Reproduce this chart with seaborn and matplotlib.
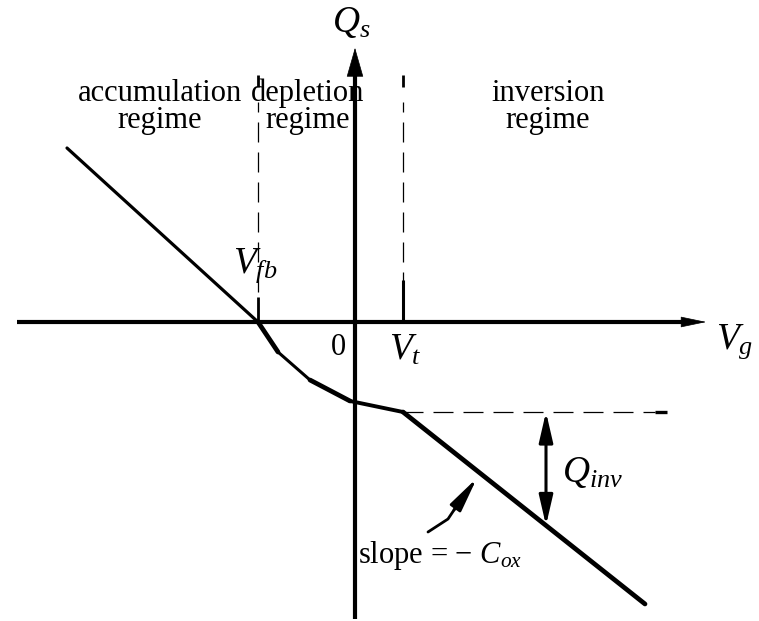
import numpy as np
import pandas as pd
import matplotlib
matplotlib.use("Agg")
import matplotlib.pyplot as plt
import seaborn as sns

sns.set_theme(style="white")
plt.rcParams["font.family"] = ["Liberation Serif", "DejaVu Serif"]
plt.rcParams["text.color"] = "black"
plt.rcParams["mathtext.fontset"] = "custom"
plt.rcParams["mathtext.rm"] = "Liberation Serif"
plt.rcParams["mathtext.it"] = "Liberation Serif:italic"

# Characteristic voltages (arbitrary units)
v_fb = -0.97
v_t = 0.48

# Surface charge vs gate voltage, piecewise segments
seg_vg = [-2.88, -0.97, -0.77, -0.45, -0.05, 0.48, 2.90]
seg_qs = [1.74, 0.00, -0.30, -0.58, -0.79, -0.90, -2.82]
seg_lw = [2.3, 3.4, 2.2, 3.4, 2.8, 3.4]

# Curved pointer to the inversion slope
ptr_x = [0.73, 0.93, 1.22]
ptr_y = [-2.10, -1.97, -1.56]

regime_names = ["accumulation\nregime", "depletion\nregime", "inversion\nregime"]
regime_x = [-1.95, -0.47, 1.93]

fig = plt.figure(figsize=(7.59, 6.21), dpi=100)
ax = fig.add_axes([0, 0, 1, 1])
ax.set_xlim(-3.55, 4.04)
ax.set_ylim(-2.99, 3.22)
ax.axis("off")

# Axes with arrowheads
ax.plot([-3.38, 3.3], [0, 0], color="black", lw=3.0, solid_capstyle="butt")
ax.annotate("", xy=(3.54, 0), xytext=(3.25, 0),
            arrowprops=dict(arrowstyle="-|>,head_length=1.2,head_width=0.25",
                            color="black", lw=0.5, mutation_scale=14))
ax.plot([0, 0], [-2.97, 2.5], color="black", lw=3.0, solid_capstyle="butt")
ax.annotate("", xy=(0, 2.77), xytext=(0, 2.45),
            arrowprops=dict(arrowstyle="-|>,head_length=1.4,head_width=0.4",
                            color="black", lw=0.5, mutation_scale=14))

# Regime boundaries
for xv in (v_fb, v_t):
    ax.plot([xv, xv], [0.0, 2.2], color="black", lw=0.9, ls=(0, (16, 8)))
    ax.plot([xv, xv], [2.35, 2.47], color="black", lw=2.0, solid_capstyle="butt")
ax.plot([v_fb, v_fb], [0.0, 0.25], color="black", lw=2.0, solid_capstyle="butt")
ax.plot([v_t, v_t], [0.0, 0.42], color="black", lw=2.2, solid_capstyle="butt")

# Threshold charge reference line
ax.plot([v_t, 3.0], [seg_qs[5], seg_qs[5]], color="black", lw=0.9, ls=(0, (16, 8)))
ax.plot([3.0, 3.12], [seg_qs[5], seg_qs[5]], color="black", lw=2.4, solid_capstyle="butt")

# Q_s(V_g) curve
for i in range(len(seg_vg) - 1):
    df = pd.DataFrame({"Vg": seg_vg[i:i + 2], "Qs": seg_qs[i:i + 2]})
    sns.lineplot(data=df, x="Vg", y="Qs", ax=ax, color="black",
                 lw=seg_lw[i], sort=False, estimator=None)

# Inversion charge double arrow
x_q = 1.91
slope = (seg_qs[6] - seg_qs[5]) / (seg_vg[6] - seg_vg[5])
y_curve = seg_qs[5] + slope * (x_q - seg_vg[5])
ax.annotate("", xy=(x_q, seg_qs[5]), xytext=(x_q, y_curve),
            arrowprops=dict(arrowstyle="<|-|>,head_length=1.3,head_width=0.3",
                            color="black", lw=2.2, mutation_scale=14,
                            shrinkA=0, shrinkB=0))

# Curved pointer
ax.plot(ptr_x[:2] + [ptr_x[1] + 0.1], ptr_y[:2] + [ptr_y[1] + 0.15],
        color="black", lw=2.0)
ax.annotate("", xy=(ptr_x[2], ptr_y[2]), xytext=(ptr_x[1] + 0.06, ptr_y[1] + 0.09),
            arrowprops=dict(arrowstyle="-|>,head_length=1.5,head_width=0.28",
                            color="black", lw=2.0, mutation_scale=14,
                            shrinkA=0, shrinkB=0))

# Labels
fs = 22
for name, xv in zip(regime_names, regime_x):
    ax.text(xv, 2.15, name, ha="center", va="center", fontsize=fs, linespacing=0.92)

ax.text(-0.04, 3.0, r"$Q_s$", ha="center", va="center", fontsize=27)
ax.text(3.80, -0.20, r"$V_g$", ha="center", va="center", fontsize=27)
ax.text(-1.0, 0.56, r"$V_{fb}$", ha="center", va="center", fontsize=27)
ax.text(-0.17, -0.25, "0", ha="center", va="center", fontsize=fs)
ax.text(0.50, -0.28, r"$V_t$", ha="center", va="center", fontsize=27)
ax.text(2.38, -1.50, r"$Q_{inv}$", ha="center", va="center", fontsize=27)
ax.text(0.03, -2.33, "slope = − $C_{ox}$", ha="left", va="center", fontsize=fs)

fig.savefig("out.png", dpi=100, facecolor="white")
